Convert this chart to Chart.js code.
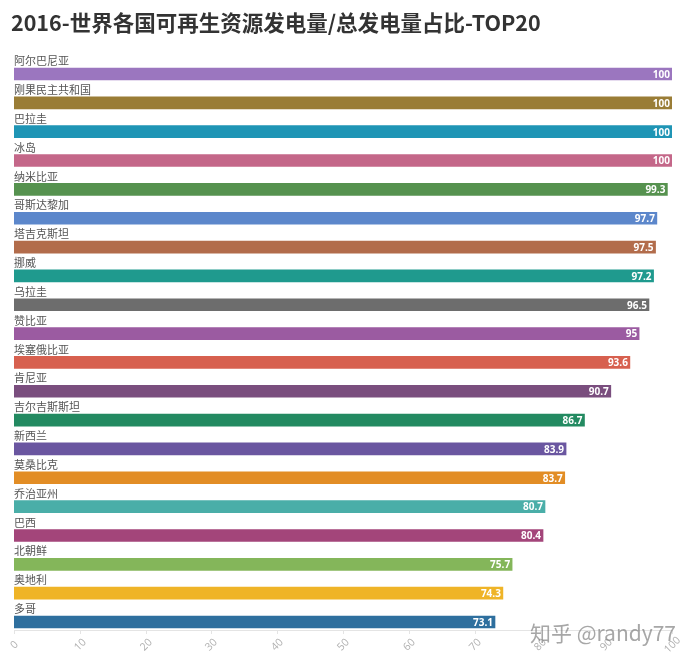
<!DOCTYPE html>
<html>
<head>
<meta charset="utf-8">
<script src="https://cdn.jsdelivr.net/npm/chart.js@4.4.0/dist/chart.umd.min.js"></script>
<style>
  html, body { margin: 0; padding: 0; background: #fff; }
  #wrap { width: 689px; height: 664px; }
</style>
</head>
<body>
<div id="wrap"><canvas id="c" width="689" height="664"></canvas></div>
<script>
// data
const countries = ['阿尔巴尼亚', '刚果民主共和国', '巴拉圭', '冰岛', '纳米比亚', '哥斯达黎加', '塔吉克斯坦', '挪威', '乌拉圭', '赞比亚',
  '埃塞俄比亚', '肯尼亚', '吉尔吉斯斯坦', '新西兰', '莫桑比克', '乔治亚州', '巴西', '北朝鲜', '奥地利', '多哥'];
const shares = [100, 100, 100, 100, 99.3, 97.7, 97.5, 97.2, 96.5, 95,
  93.6, 90.7, 86.7, 83.9, 83.7, 80.7, 80.4, 75.7, 74.3, 73.1];
const barColors = ['#9b76bf', '#9a7d36', '#1f95b5', '#c46789', '#56924f', '#5c87cb', '#b26c4b', '#1f9a8e', '#6d6d6d', '#9b5ba1',
  '#d7604f', '#7a4e7e', '#238a61', '#6a56a0', '#e28d25', '#4aaea8', '#a3457a', '#84b65a', '#efb427', '#2e6f9e'];
const xTicks = [0, 10, 20, 30, 40, 50, 60, 70, 80, 90, 100];
const titleText = '2016-世界各国可再生资源发电量/总发电量占比-TOP20';

// labels above bars, values inside bar ends, title, bottom axis, watermark
const decorations = {
  id: 'decorations',
  afterDatasetsDraw(chart) {
    const ctx = chart.ctx;
    const x = chart.scales.x;
    const meta = chart.getDatasetMeta(0);
    ctx.save();

    ctx.fillStyle = '#333';
    ctx.font = 'bold 21.5px "Noto Sans CJK SC", sans-serif';
    ctx.textAlign = 'left';
    ctx.textBaseline = 'alphabetic';
    ctx.fillText(titleText, 11, 31);

    meta.data.forEach((bar, i) => {
      ctx.fillStyle = '#555';
      ctx.font = '11px "Noto Sans CJK SC", sans-serif';
      ctx.textAlign = 'left';
      ctx.textBaseline = 'middle';
      ctx.fillText(countries[i], x.left, bar.y - 13);

      ctx.fillStyle = '#fff';
      ctx.font = 'bold 10px "Open Sans", sans-serif';
      ctx.textAlign = 'right';
      ctx.fillText(String(shares[i]), bar.x - 2, bar.y + 1);
    });

    const axisY = 630;
    ctx.strokeStyle = '#e4e4e4';
    ctx.lineWidth = 1;
    ctx.beginPath();
    ctx.moveTo(x.left, axisY + 0.5);
    ctx.lineTo(x.right, axisY + 0.5);
    ctx.stroke();
    xTicks.forEach(t => {
      const px = Math.round(x.getPixelForValue(t)) + 0.5;
      ctx.beginPath();
      ctx.moveTo(px, axisY);
      ctx.lineTo(px, axisY + 4);
      ctx.stroke();
      ctx.save();
      ctx.translate(px, 645);
      ctx.rotate(-Math.PI / 4);
      ctx.fillStyle = '#b0b0b0';
      ctx.font = '10.5px "Open Sans", sans-serif';
      ctx.textAlign = 'center';
      ctx.textBaseline = 'middle';
      ctx.fillText(String(t), 0, 0);
      ctx.restore();
    });

    ctx.fillStyle = 'rgba(130,130,130,0.7)';
    ctx.font = '21px "Noto Sans CJK SC", sans-serif';
    ctx.textAlign = 'right';
    ctx.textBaseline = 'alphabetic';
    ctx.fillText('知乎 @randy77', 676, 641);
    ctx.restore();
  }
};

new Chart(document.getElementById('c'), {
  type: 'bar',
  data: {
    labels: countries,
    datasets: [{
      data: shares,
      backgroundColor: barColors,
      borderWidth: 0,
      barThickness: 12
    }]
  },
  options: {
    indexAxis: 'y',
    animation: false,
    responsive: false,
    layout: { padding: { left: 14, right: 17, top: 59.6, bottom: 27.6 } },
    plugins: { legend: { display: false }, tooltip: { enabled: false }, title: { display: false } },
    scales: {
      x: { display: false, min: 0, max: 100 },
      y: { display: false }
    }
  },
  plugins: [decorations]
});
</script>
</body>
</html>
